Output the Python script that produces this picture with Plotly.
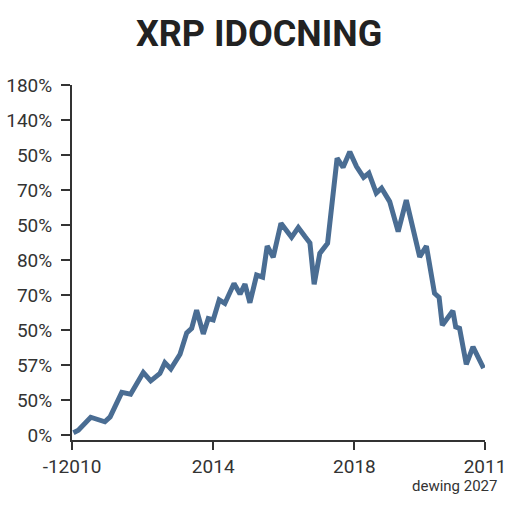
import plotly.graph_objects as go

years = [2010.04, 2010.18, 2010.53, 2010.93, 2011.08, 2011.41, 2011.66, 2012.02, 2012.23, 2012.40,
         2012.49, 2012.63, 2012.80, 2013.06, 2013.25, 2013.39, 2013.53, 2013.72, 2013.86, 2014.00,
         2014.17, 2014.33, 2014.59, 2014.76, 2014.90, 2015.04, 2015.23, 2015.40, 2015.53, 2015.70,
         2015.92, 2016.22, 2016.41, 2016.60, 2016.74, 2016.86, 2017.02, 2017.24, 2017.51, 2017.68,
         2017.87, 2018.06, 2018.26, 2018.41, 2018.62, 2018.77, 2019.00, 2019.24, 2019.47, 2019.85,
         2020.04, 2020.27, 2020.40, 2020.49, 2020.79, 2020.87, 2020.98, 2021.17, 2021.36, 2021.66]
values = [0.07, 0.14, 0.51, 0.38, 0.52, 1.22, 1.17, 1.79, 1.55, 1.71,
          1.76, 2.07, 1.89, 2.31, 2.92, 3.05, 3.57, 2.89, 3.33, 3.29,
          3.86, 3.76, 4.33, 4.03, 4.31, 3.78, 4.57, 4.51, 5.40, 5.08,
          6.05, 5.65, 5.93, 5.67, 5.49, 4.31, 5.19, 5.48, 7.91, 7.65,
          8.09, 7.67, 7.36, 7.48, 6.91, 7.05, 6.67, 5.81, 6.71, 5.09,
          5.40, 4.05, 3.93, 3.14, 3.55, 3.09, 3.05, 2.02, 2.52, 1.91]

y_tick_vals = [0, 1, 2, 3, 4, 5, 6, 7, 8, 9, 10]
y_tick_text = ["0%", "50%", "57%", "50%", "70%", "80%", "50%", "70%", "50%", "140%", "180%"]
x_tick_vals = [2010, 2014, 2018, 2021.7]
x_tick_text = ["-12010", "2014", "2018", "2011"]

title_text = "XRP IDOCNING"
note_text = "dewing 2027"

fig = go.Figure()
fig.add_trace(go.Scatter(x=years, y=values, mode="lines",
                         line=dict(color="#4a6d93", width=5), hoverinfo="skip"))

axis_color = "#333333"
fig.update_layout(
    width=512, height=512,
    margin=dict(l=72, r=27, t=85, b=72),
    paper_bgcolor="white", plot_bgcolor="white",
    showlegend=False,
    font=dict(family="Roboto, Arial, sans-serif", color="#333333", size=19),
    title=dict(text="<b>" + title_text + "</b>", x=0.506, xanchor="center", y=0.9355, yanchor="middle",
               font=dict(size=36, color="#222222", family="Roboto, Arial, sans-serif")),
    xaxis=dict(range=[2010, 2021.7], tickvals=x_tick_vals, ticktext=x_tick_text,
               showgrid=False, zeroline=False, showline=True, linecolor=axis_color, linewidth=2,
               ticks="outside", ticklen=8, tickwidth=2, tickcolor=axis_color, automargin=False,
               tickfont=dict(size=19, color="#333333")),
    yaxis=dict(range=[-0.14, 10], tickvals=y_tick_vals, ticktext=y_tick_text,
               showgrid=False, zeroline=False, showline=True, linecolor=axis_color, linewidth=2,
               ticks="outside", ticklen=9, tickwidth=2, tickcolor=axis_color, automargin=False,
               ticklabelstandoff=5,
               tickfont=dict(size=19, color="#333333")),
    annotations=[dict(text=note_text, xref="paper", yref="paper", x=1.035, y=-0.13,
                      xanchor="right", yanchor="middle", showarrow=False,
                      font=dict(size=15, color="#333333"))],
)

fig.write_html("out.html", config={"displayModeBar": False},
               post_script="document.body.style.margin='0';")
